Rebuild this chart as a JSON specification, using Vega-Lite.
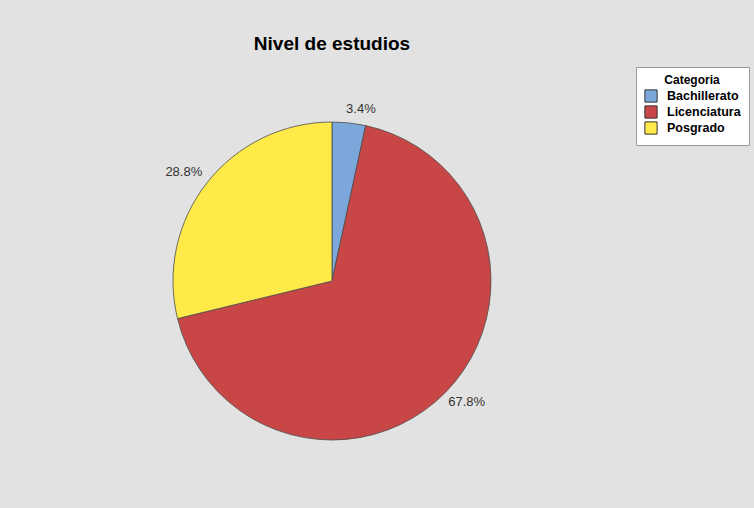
{
  "$schema": "https://vega.github.io/schema/vega-lite/v6.json",
  "width": 640,
  "height": 442,
  "autosize": {"type": "none"},
  "padding": {"left": 12, "top": 60, "right": 102, "bottom": 6},
  "background": "#e2e2e2",
  "title": {
    "text": "Nivel de estudios",
    "font": "Liberation Sans",
    "fontSize": 19,
    "fontWeight": "bold",
    "color": "#000000",
    "anchor": "middle",
    "offset": 6
  },
  "data": {
    "values": [
      {"Categoria": "Bachillerato", "pct": 3.4, "label": "3.4%", "order": 1},
      {"Categoria": "Licenciatura", "pct": 67.8, "label": "67.8%", "order": 2},
      {"Categoria": "Posgrado", "pct": 28.8, "label": "28.8%", "order": 3}
    ]
  },
  "transform": [
    {"stack": "pct", "groupby": [], "sort": [{"field": "order"}], "as": ["s0", "s1"]},
    {"calculate": "(datum.s0 + datum.s1) / 2", "as": "mid"}
  ],
  "layer": [
    {
      "mark": {"type": "arc", "outerRadius": 159, "stroke": "#4d4d4d", "strokeWidth": 0.8},
      "encoding": {
        "theta": {"field": "s0", "type": "quantitative", "scale": {"domain": [0, 100]}},
        "theta2": {"field": "s1"},
        "color": {
          "field": "Categoria",
          "type": "nominal",
          "scale": {"domain": ["Bachillerato", "Licenciatura", "Posgrado"], "range": ["#7ba7da", "#c84646", "#ffea4a"]},
          "legend": {
            "orient": "none",
            "legendX": 624,
            "legendY": 7,
            "title": "Categoria",
            "titleFont": "Liberation Sans",
            "titleFontSize": 12,
            "titleFontWeight": "bold",
            "titleColor": "#000000",
            "titleAnchor": "middle",
            "titlePadding": 2,
            "labelFont": "Liberation Sans",
            "labelFontSize": 12.5,
            "labelFontWeight": "bold",
            "labelColor": "#000000",
            "symbolType": "square",
            "symbolSize": 150,
            "symbolStrokeColor": "#333333",
            "symbolStrokeWidth": 1,
            "symbolOpacity": 1,
            "rowPadding": -6,
            "padding": 8,
            "fillColor": "#ffffff",
            "strokeColor": "#9a9a9a",
            "labelOffset": 9
          }
        }
      }
    },
    {
      "transform": [{"filter": "datum.Categoria == 'Bachillerato'"}],
      "mark": {"type": "text", "radius": 177, "dx": 10, "dy": 4, "font": "Liberation Sans", "fontSize": 13, "color": "#333333"},
      "encoding": {
        "theta": {"field": "mid", "type": "quantitative", "stack": null, "scale": {"domain": [0, 100]}},
        "text": {"field": "label", "type": "nominal"}
      }
    },
    {
      "transform": [{"filter": "datum.Categoria == 'Licenciatura'"}],
      "mark": {"type": "text", "radius": 177, "dx": 8, "dy": -3, "font": "Liberation Sans", "fontSize": 13, "color": "#333333"},
      "encoding": {
        "theta": {"field": "mid", "type": "quantitative", "stack": null, "scale": {"domain": [0, 100]}},
        "text": {"field": "label", "type": "nominal"}
      }
    },
    {
      "transform": [{"filter": "datum.Categoria == 'Posgrado'"}],
      "mark": {"type": "text", "radius": 177, "dx": -9, "font": "Liberation Sans", "fontSize": 13, "color": "#333333"},
      "encoding": {
        "theta": {"field": "mid", "type": "quantitative", "stack": null, "scale": {"domain": [0, 100]}},
        "text": {"field": "label", "type": "nominal"}
      }
    }
  ],
  "config": {"view": {"stroke": null}}
}
